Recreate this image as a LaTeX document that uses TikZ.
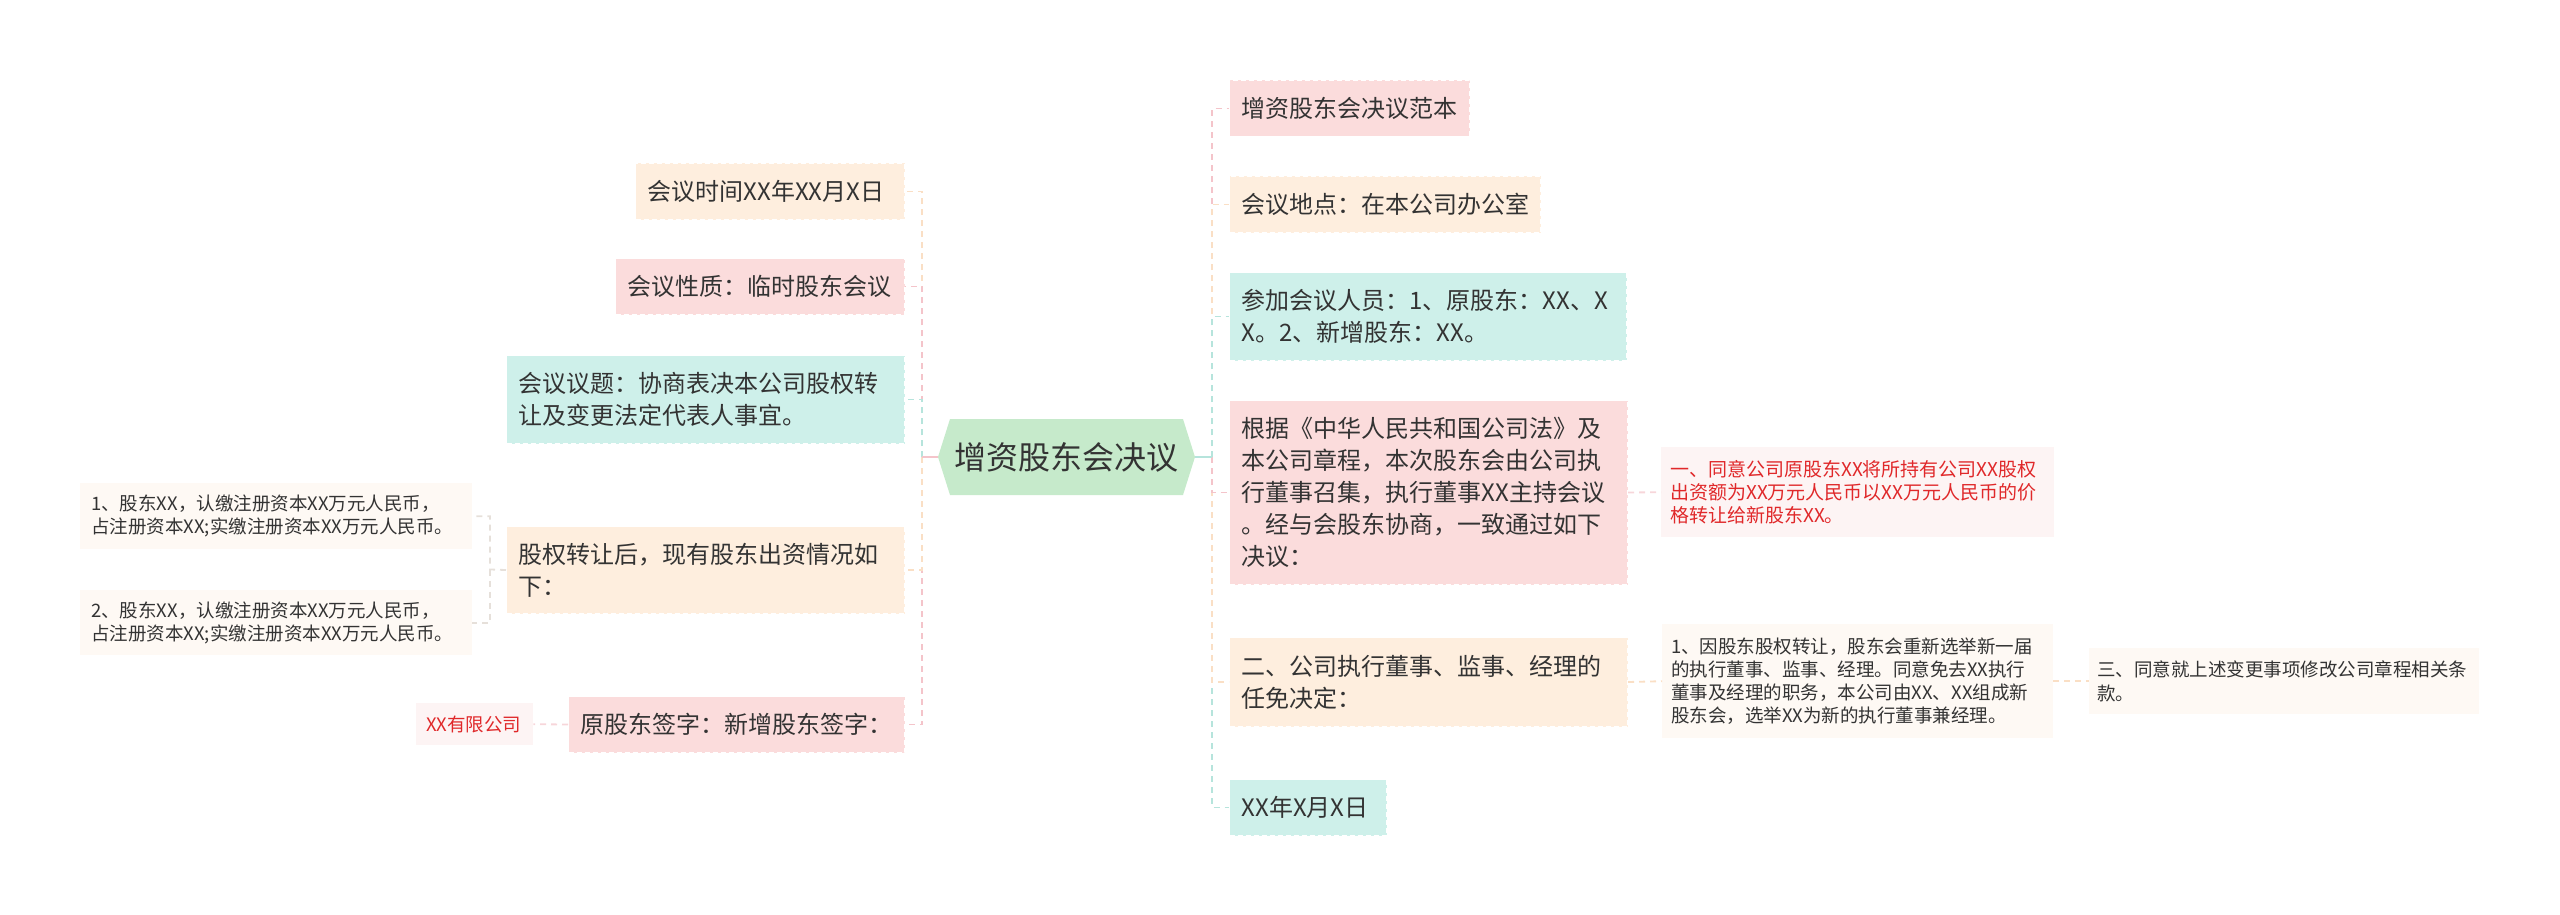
\documentclass[tikz,border=0pt]{standalone}
\usepackage{fontspec}
\setmainfont{Noto Sans CJK SC}
\definecolor{pinkfill}{HTML}{FBDCDC}
\definecolor{peachfill}{HTML}{FEEEDE}
\definecolor{tealfill}{HTML}{CEF0EA}
\definecolor{hexfill}{HTML}{C6EACB}
\definecolor{pinkline}{HTML}{F4C4CA}
\definecolor{peachline}{HTML}{FADFC5}
\definecolor{tealline}{HTML}{B6E4DC}
\definecolor{greyline}{HTML}{E6E0DA}
\definecolor{lightpink}{HTML}{FDF4F4}
\definecolor{lightpeach}{HTML}{FEF9F4}
\definecolor{redtext}{HTML}{E0282A}
\definecolor{darktext}{HTML}{333333}
\tikzset{
  box/.style={draw=white, dash pattern=on 5pt off 3pt, line width=1pt, inner ysep=0pt,
    align=left, text=darktext, font=\fontsize{24}{32}\selectfont},
  pinkbox/.style={box, fill=pinkfill},
  peachbox/.style={box, fill=peachfill},
  tealbox/.style={box, fill=tealfill},
  smallbox/.style={inner ysep=0pt, align=left, text=darktext, font=\fontsize{18.5}{23.3}\selectfont},
  conn/.style={dash pattern=on 6pt off 5pt, line width=1.8pt},
}
\newcommand\bx[8]{%
  \pgfmathsetmacro\bxw{#4-#2}%
  \pgfmathsetmacro\bxh{#5-#3}%
  \pgfmathsetmacro\bxt{#4-#2-2*#6}%
  \node[#7, anchor=north west, inner xsep=#6pt, minimum width=\bxw pt, minimum height=\bxh pt, text width=\bxt pt] (#1) at (#2,#3) {#8};}
\begin{document}
\begin{tikzpicture}[x=1pt,y=-1pt]
\useasboundingbox (0,0) rectangle (2560,915);
% central hexagon
\fill[hexfill] (938,457) -- (950,419) -- (1183,419) -- (1195,457) -- (1183,495) -- (950,495) -- cycle;
\node[minimum width=257pt, minimum height=76pt, inner sep=0pt, text=darktext, font=\fontsize{32}{38}\selectfont] (hex) at (1066.5,457) {增资股东会决议};
% left nodes
\bx{L1}{635}{163}{904}{219}{12}{peachbox}{会议时间XX年XX月X日}
\bx{L2}{615}{258}{904}{314}{12}{pinkbox}{会议性质：临时股东会议}
\bx{L3}{506}{355}{904}{443}{12}{tealbox}{会议议题：协商表决本公司股权转\\让及变更法定代表人事宜。}
\bx{L4}{506}{526}{904}{613}{12}{peachbox}{股权转让后，现有股东出资情况如\\下：}
\bx{L5}{568}{696}{904}{752}{12}{pinkbox}{原股东签字：新增股东签字：}
\bx{L4a}{80}{483}{472}{549}{11}{smallbox, fill=lightpeach}{1、股东XX，认缴注册资本XX万元人民币，\\占注册资本XX;实缴注册资本XX万元人民币。}
\bx{L4b}{80}{590}{472}{655}{11}{smallbox, fill=lightpeach}{2、股东XX，认缴注册资本XX万元人民币，\\占注册资本XX;实缴注册资本XX万元人民币。}
\bx{L5a}{416}{703}{533}{745}{10}{smallbox, fill=lightpink, text=redtext}{XX有限公司}
% right nodes
\bx{R1}{1229}{80}{1469}{136}{12}{pinkbox}{增资股东会决议范本}
\bx{R2}{1229}{176}{1540}{232}{12}{peachbox}{会议地点：在本公司办公室}
\bx{R3}{1229}{272}{1626}{360}{12}{tealbox}{参加会议人员：1、原股东：XX、X\\X。2、新增股东：XX。}
\bx{R4}{1229}{400}{1627}{584}{12}{pinkbox}{根据《中华人民共和国公司法》及\\本公司章程，本次股东会由公司执\\行董事召集，执行董事XX主持会议\\。经与会股东协商，一致通过如下\\决议：}
\bx{R5}{1229}{637}{1627}{726}{12}{peachbox}{二、公司执行董事、监事、经理的\\任免决定：}
\bx{R6}{1229}{779}{1386}{835}{12}{tealbox}{XX年X月X日}
\bx{R4a}{1661}{447}{2054}{537}{9}{smallbox, fill=lightpink, text=redtext, font=\fontsize{19}{23.3}\selectfont}{一、同意公司原股东XX将所持有公司XX股权\\出资额为XX万元人民币以XX万元人民币的价\\格转让给新股东XX。}
\bx{R5a}{1662}{624}{2053}{738}{9}{smallbox, fill=lightpeach}{1、因股东股权转让，股东会重新选举新一届\\的执行董事、监事、经理。同意免去XX执行\\董事及经理的职务，本公司由XX、XX组成新\\股东会，选举XX为新的执行董事兼经理。}
\bx{R5b}{2089}{648}{2479}{714}{8}{smallbox, fill=lightpeach}{三、同意就上述变更事项修改公司章程相关条\\款。}
% trunk junctions
\coordinate (LT) at (922,457);
\coordinate (RT) at (1212,457);
\coordinate (LJ) at (490,569.5);
% left connectors (far first)
\draw[conn, pinkline] (LT) |- (L5.east);
\draw[conn, peachline] (LT) |- (L1.east);
\draw[conn, peachline] (LT) |- (L4.east);
\draw[conn, pinkline] (LT) |- (L2.east);
\draw[conn, tealline] (LT) |- (L3.east);
\draw[pinkline, line width=1.8pt] (hex.west) -- (LT);
% right connectors
\draw[conn, tealline] (RT) |- (R6.west);
\draw[conn, pinkline] (RT) |- (R1.west);
\draw[conn, peachline] (RT) |- (R5.west);
\draw[conn, peachline] (RT) |- (R2.west);
\draw[conn, pinkline] (RT) |- (R4.west);
\draw[conn, tealline] (RT) |- (R3.west);
\draw[tealline, line width=1.8pt] (hex.east) -- (RT);
% second level
\draw[conn, greyline] (L4.west) -- (LJ) |- (L4a.east);
\draw[conn, greyline] (LJ) |- (L4b.east);
\draw[conn, pinkline!70] (L5.west) -- (L5a.east);
\draw[conn, pinkline!70] (R4.east) -- (R4a.west);
\draw[conn, peachline] (R5.east) -- (R5a.west);
\draw[conn, peachline] (R5a.east) -- (R5b.west);
\end{tikzpicture}
\end{document}
